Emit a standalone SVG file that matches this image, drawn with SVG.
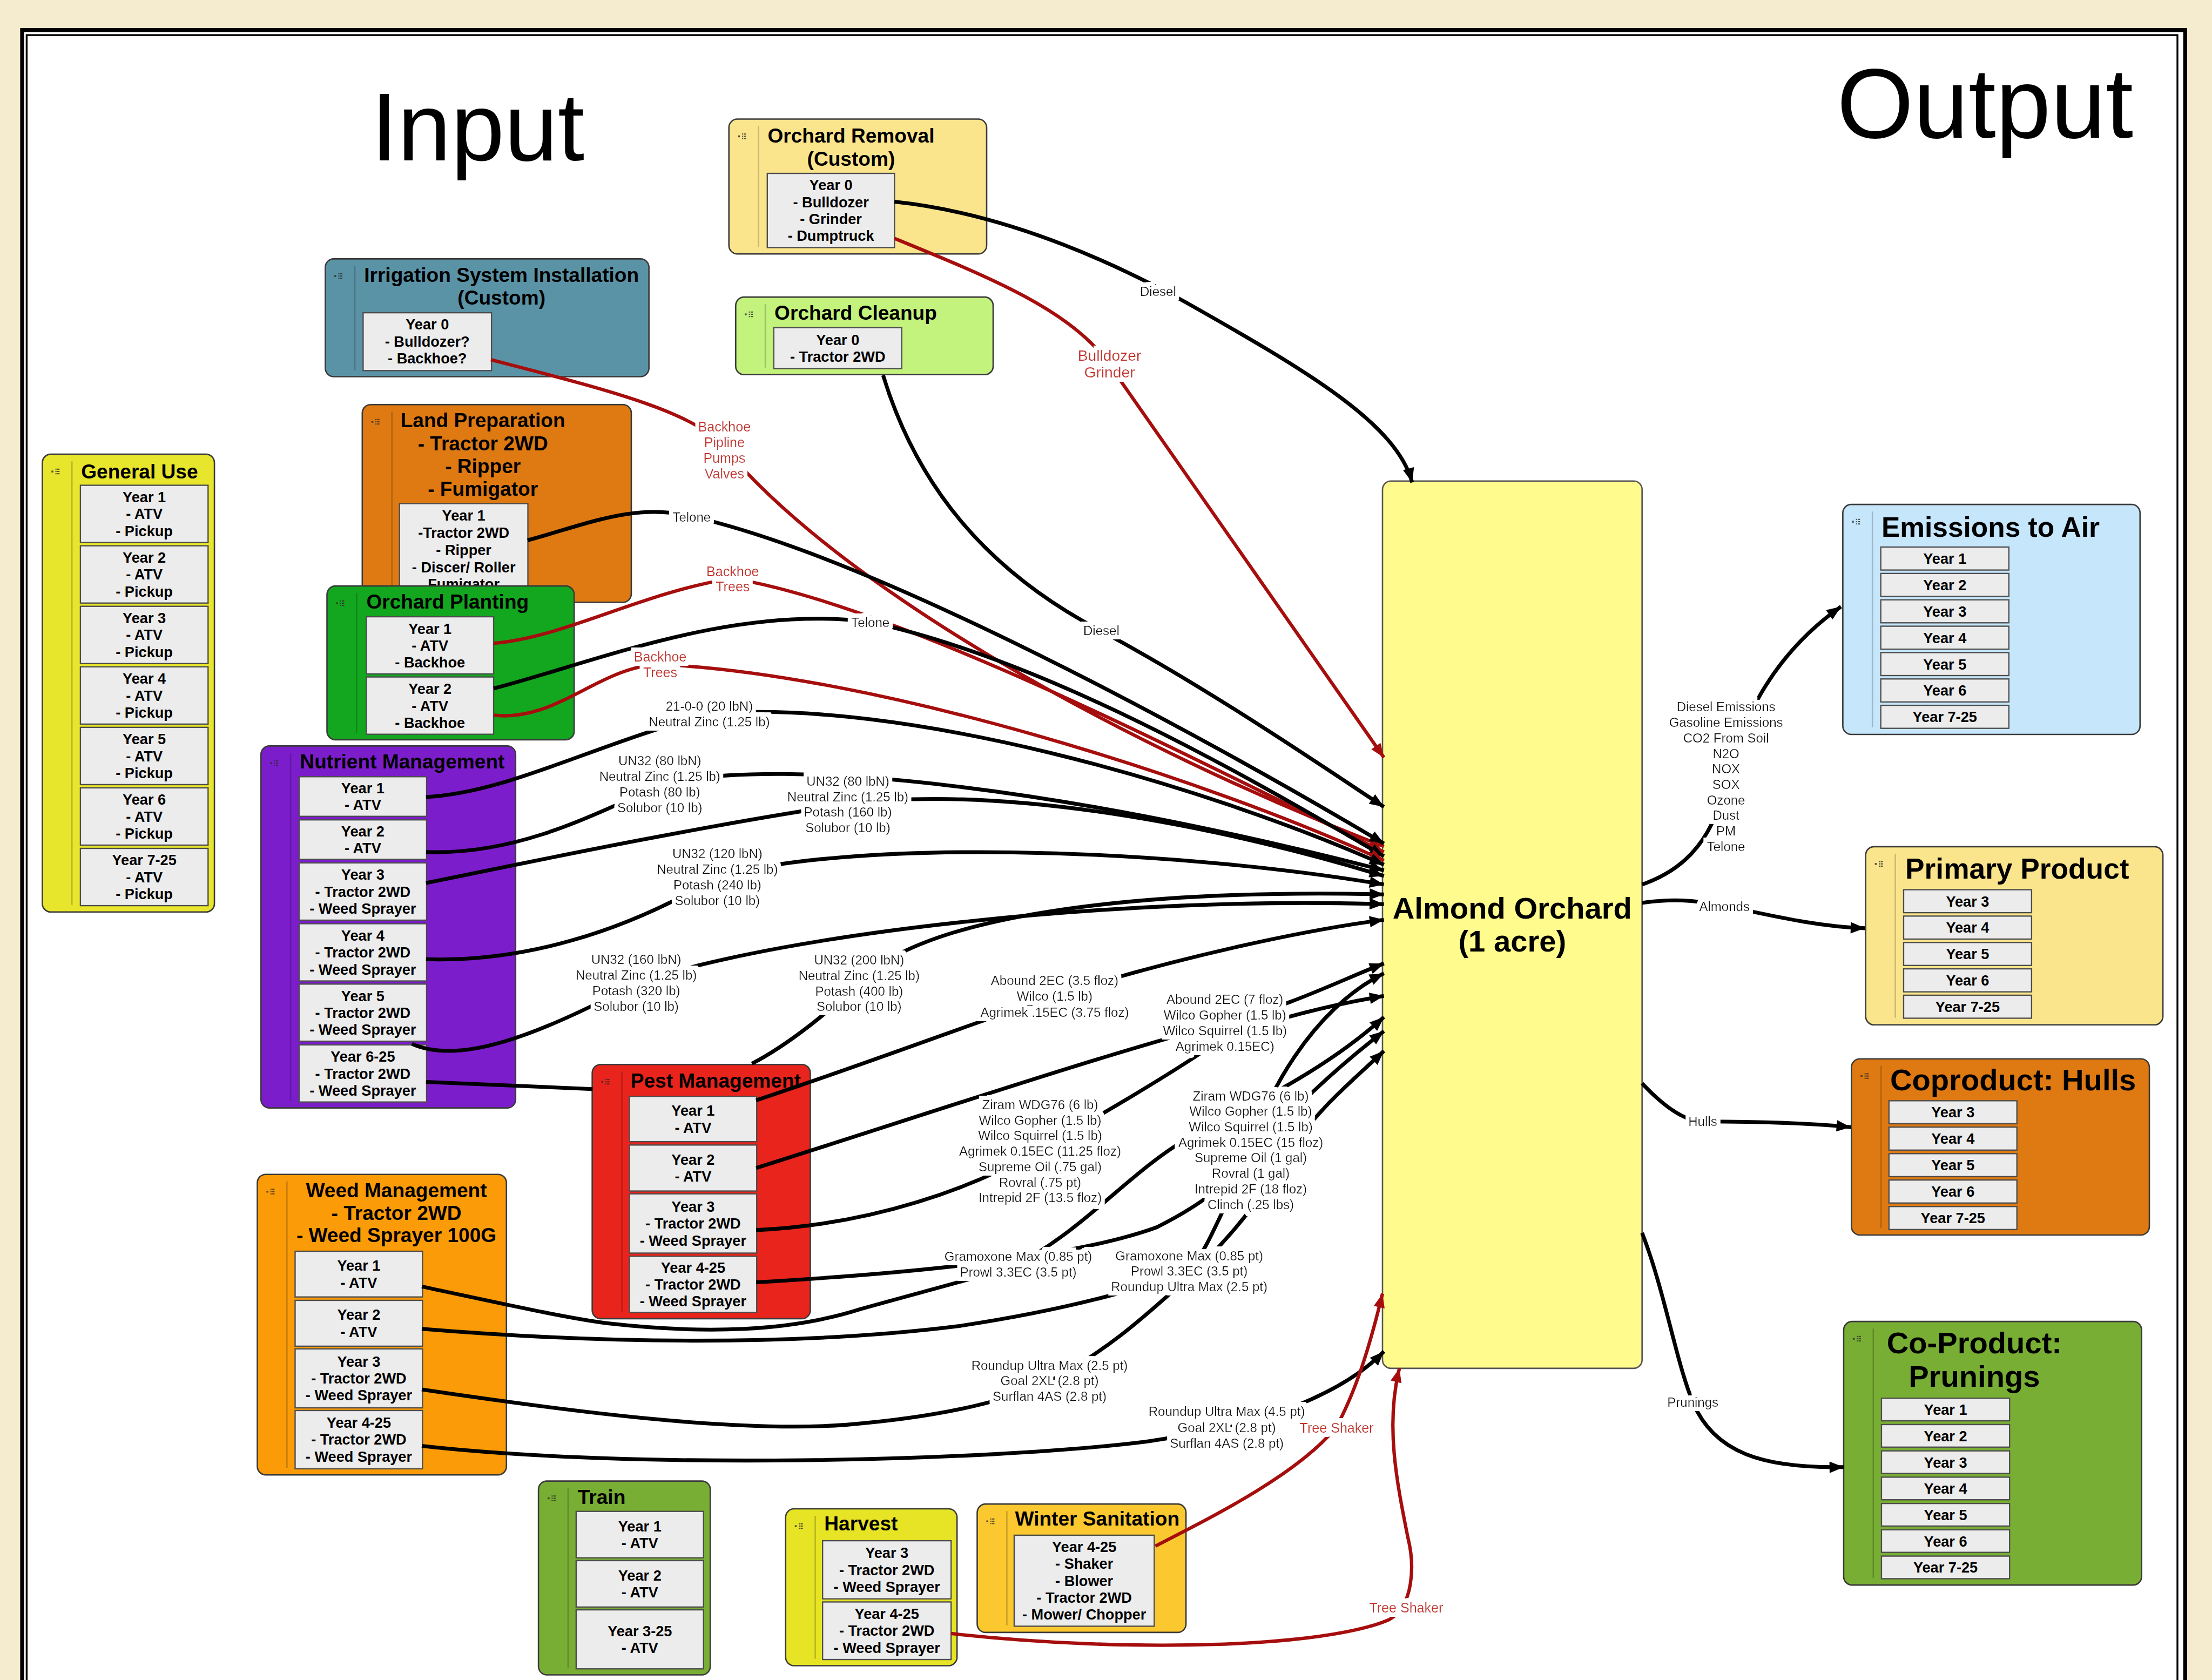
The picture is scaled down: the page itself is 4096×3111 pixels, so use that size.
<svg xmlns="http://www.w3.org/2000/svg" width="4096" height="3111" viewBox="0 0 4096 3111">
<defs>
<style>
.nf{stroke:#3a3a3a;stroke-width:1}
.dv{stroke:#000;stroke-opacity:.2;stroke-width:1}
.box{fill:#ececec;stroke:#4d4d4d;stroke-width:.9}
.tt{font-family:"Liberation Sans",Arial,sans-serif;font-weight:bold;font-size:14.2px;fill:#000}
.tm{text-anchor:middle}
.bt{font-family:"Liberation Sans",Arial,sans-serif;font-weight:bold;font-size:10.4px;fill:#000;text-anchor:middle}
.big{font-family:"Liberation Sans",Arial,sans-serif;font-size:68px;fill:#000}
.c{fill:none;stroke:#000;stroke-width:2.7;marker-end:url(#ah)}
.r{fill:none;stroke:#a60e0e;stroke-width:2.4;marker-end:url(#ahr)}
.lbl{font-family:"Liberation Sans",Arial,sans-serif;font-size:9.2px;fill:#111;text-anchor:middle;filter:url(#halo)}
.rl{fill:#c4302b;font-size:9.6px}
</style>
<filter id="halo" x="-15%" y="-25%" width="130%" height="150%">
<feMorphology in="SourceAlpha" operator="dilate" radius="2.8 3.2" result="grow"/>
<feFlood flood-color="#fff" result="white"/>
<feComposite in="white" in2="grow" operator="in" result="pad"/>
<feMerge><feMergeNode in="pad"/><feMergeNode in="SourceGraphic"/></feMerge>
</filter>
<marker id="ah" viewBox="0 0 10 8" refX="10" refY="4" markerWidth="4" markerHeight="3" orient="auto"><path d="M0,0 L10,4 L0,8 z" fill="#000"/></marker>
<marker id="ahr" viewBox="0 0 10 8" refX="10" refY="4" markerWidth="4.4" markerHeight="3.3" orient="auto"><path d="M0,0 L10,4 L0,8 z" fill="#a60e0e"/></marker>
<g id="ico" fill="#2a2a2a" fill-opacity=".8"><rect x="0" y="1.6" width="1.3" height="1.3"/><rect x="2.8" y="0.2" width="0.8" height="0.8"/><rect x="2.8" y="1.8" width="0.8" height="0.8"/><rect x="2.8" y="3.4" width="0.8" height="0.8"/><rect x="4.1" y="0.2" width="1.6" height="0.8"/><rect x="4.1" y="1.8" width="1.6" height="0.8"/><rect x="4.1" y="3.4" width="1.6" height="0.8"/></g>
</defs>
<g transform="scale(2.612245)">
<!-- page and frame -->
<rect x="0" y="0" width="1568" height="1192" fill="#f5ebce"/>
<rect x="15.7" y="21.3" width="1533.3" height="1200" fill="#fff" stroke="#000" stroke-width="2.8"/>
<rect x="18.9" y="24.9" width="1524.6" height="1200" fill="none" stroke="#000" stroke-width="1.3"/>
<text class="big" x="263" y="113.6">Input</text>
<text class="big" x="1302" y="97.8" style="font-size:70px">Output</text>

<!-- input nodes -->
<g id="node-general-use">
<rect class="nf" x="30" y="322" width="122" height="324.5" rx="6" fill="#e8e62c"/>
<line class="dv" x1="51" y1="327" x2="51" y2="641.5"/>
<use href="#ico" x="36.5" y="332"/>
<text class="tt" x="57.5" y="339">General Use</text>
<rect class="box" x="57" y="344" width="90.5" height="40.6"/>
<text class="bt" x="102.25" y="356">Year 1<tspan x="102.25" dy="12">- ATV</tspan><tspan x="102.25" dy="12">- Pickup</tspan></text>
<rect class="box" x="57" y="386.9" width="90.5" height="40.6"/>
<text class="bt" x="102.25" y="398.9">Year 2<tspan x="102.25" dy="12">- ATV</tspan><tspan x="102.25" dy="12">- Pickup</tspan></text>
<rect class="box" x="57" y="429.8" width="90.5" height="40.6"/>
<text class="bt" x="102.25" y="441.8">Year 3<tspan x="102.25" dy="12">- ATV</tspan><tspan x="102.25" dy="12">- Pickup</tspan></text>
<rect class="box" x="57" y="472.7" width="90.5" height="40.6"/>
<text class="bt" x="102.25" y="484.7">Year 4<tspan x="102.25" dy="12">- ATV</tspan><tspan x="102.25" dy="12">- Pickup</tspan></text>
<rect class="box" x="57" y="515.6" width="90.5" height="40.6"/>
<text class="bt" x="102.25" y="527.6">Year 5<tspan x="102.25" dy="12">- ATV</tspan><tspan x="102.25" dy="12">- Pickup</tspan></text>
<rect class="box" x="57" y="558.5" width="90.5" height="40.6"/>
<text class="bt" x="102.25" y="570.5">Year 6<tspan x="102.25" dy="12">- ATV</tspan><tspan x="102.25" dy="12">- Pickup</tspan></text>
<rect class="box" x="57" y="601.4" width="90.5" height="40.6"/>
<text class="bt" x="102.25" y="613.4">Year 7-25<tspan x="102.25" dy="12">- ATV</tspan><tspan x="102.25" dy="12">- Pickup</tspan></text>
</g>

<g id="node-irrigation">
<rect class="nf" x="230.6" y="183.5" width="229.4" height="83.5" rx="6" fill="#5b93a6"/>
<line class="dv" x1="251.5" y1="188.5" x2="251.5" y2="262.5"/>
<use href="#ico" x="237" y="193.5"/>
<text class="tt tm" x="355.5" y="200">Irrigation System Installation<tspan x="355.5" dy="16">(Custom)</tspan></text>
<rect class="box" x="257.4" y="221.7" width="91" height="41"/>
<text class="bt" x="302.9" y="233.7">Year 0<tspan x="302.9" dy="12">- Bulldozer?</tspan><tspan x="302.9" dy="12">- Backhoe?</tspan></text>
</g>

<g id="node-land-preparation">
<rect class="nf" x="256.8" y="286.8" width="190.7" height="140.2" rx="6" fill="#df7a13"/>
<line class="dv" x1="277.8" y1="291.8" x2="277.8" y2="422"/>
<use href="#ico" x="263.3" y="296.8"/>
<text class="tt tm" x="342.3" y="302.9">Land Preparation<tspan x="342.3" dy="16.2">- Tractor 2WD</tspan><tspan x="342.3" dy="16.2">- Ripper</tspan><tspan x="342.3" dy="16.2">- Fumigator</tspan></text>
<rect class="box" x="283.2" y="357" width="91" height="66"/>
<text class="bt" x="328.7" y="369">Year 1<tspan x="328.7" dy="12.2">-Tractor 2WD</tspan><tspan x="328.7" dy="12.2">- Ripper</tspan><tspan x="328.7" dy="12.2">- Discer/ Roller</tspan><tspan x="328.7" dy="12.2">Fumigator</tspan></text>
</g>

<g id="node-orchard-planting">
<rect class="nf" x="231.8" y="415.4" width="175.2" height="109" rx="6" fill="#13a61f"/>
<line class="dv" x1="252.8" y1="420.4" x2="252.8" y2="519.4"/>
<use href="#ico" x="238.3" y="425.4"/>
<text class="tt" x="259.7" y="431.5">Orchard Planting</text>
<rect class="box" x="259.7" y="437.2" width="90.2" height="40.5"/>
<text class="bt" x="304.8" y="449.3">Year 1<tspan x="304.8" dy="12">- ATV</tspan><tspan x="304.8" dy="12">- Backhoe</tspan></text>
<rect class="box" x="259.7" y="479.9" width="90.2" height="40.6"/>
<text class="bt" x="304.8" y="492">Year 2<tspan x="304.8" dy="12">- ATV</tspan><tspan x="304.8" dy="12">- Backhoe</tspan></text>
</g>

<g id="node-nutrient-management">
<rect class="nf" x="185" y="528.8" width="180.5" height="256.6" rx="6" fill="#7c1dcc"/>
<line class="dv" x1="206" y1="533.8" x2="206" y2="780.4"/>
<use href="#ico" x="191.5" y="538.8"/>
<text class="tt" x="212.6" y="544.8">Nutrient Management</text>
<rect class="box" x="212" y="550.6" width="90.4" height="28.1"/>
<text class="bt" x="257.2" y="562.3">Year 1<tspan x="257.2" dy="12">- ATV</tspan></text>
<rect class="box" x="212" y="581.2" width="90.4" height="28"/>
<text class="bt" x="257.2" y="592.9">Year 2<tspan x="257.2" dy="12">- ATV</tspan></text>
<rect class="box" x="212" y="611.7" width="90.4" height="40.6"/>
<text class="bt" x="257.2" y="623.7">Year 3<tspan x="257.2" dy="12">- Tractor 2WD</tspan><tspan x="257.2" dy="12">- Weed Sprayer</tspan></text>
<rect class="box" x="212" y="654.8" width="90.4" height="40.6"/>
<text class="bt" x="257.2" y="666.8">Year 4<tspan x="257.2" dy="12">- Tractor 2WD</tspan><tspan x="257.2" dy="12">- Weed Sprayer</tspan></text>
<rect class="box" x="212" y="697.6" width="90.4" height="40.5"/>
<text class="bt" x="257.2" y="709.6">Year 5<tspan x="257.2" dy="12">- Tractor 2WD</tspan><tspan x="257.2" dy="12">- Weed Sprayer</tspan></text>
<rect class="box" x="212" y="740.7" width="90.4" height="40.5"/>
<text class="bt" x="257.2" y="752.7">Year 6-25<tspan x="257.2" dy="12">- Tractor 2WD</tspan><tspan x="257.2" dy="12">- Weed Sprayer</tspan></text>
</g>

<g id="node-pest-management">
<rect class="nf" x="419.8" y="754.6" width="154.6" height="180.2" rx="6" fill="#e9241c"/>
<line class="dv" x1="440.8" y1="759.6" x2="440.8" y2="929.8"/>
<use href="#ico" x="426.3" y="764.6"/>
<text class="tt" x="447" y="771">Pest Management</text>
<rect class="box" x="446.2" y="777.2" width="90.2" height="32.1"/>
<text class="bt" x="491.3" y="791">Year 1<tspan x="491.3" dy="12">- ATV</tspan></text>
<rect class="box" x="446.2" y="811.7" width="90.2" height="32.6"/>
<text class="bt" x="491.3" y="825.7">Year 2<tspan x="491.3" dy="12">- ATV</tspan></text>
<rect class="box" x="446.2" y="846.3" width="90.2" height="42"/>
<text class="bt" x="491.3" y="859">Year 3<tspan x="491.3" dy="12">- Tractor 2WD</tspan><tspan x="491.3" dy="12">- Weed Sprayer</tspan></text>
<rect class="box" x="446.2" y="890.6" width="90.2" height="39.7"/>
<text class="bt" x="491.3" y="902.2">Year 4-25<tspan x="491.3" dy="12">- Tractor 2WD</tspan><tspan x="491.3" dy="12">- Weed Sprayer</tspan></text>
</g>

<g id="node-weed-management">
<rect class="nf" x="182.4" y="832.5" width="176.6" height="213" rx="6" fill="#fb9b08"/>
<line class="dv" x1="203.4" y1="837.5" x2="203.4" y2="1040.5"/>
<use href="#ico" x="188.9" y="842.5"/>
<text class="tt tm" x="281" y="848.6">Weed Management<tspan x="281" dy="16">- Tractor 2WD</tspan><tspan x="281" dy="16">- Weed Sprayer 100G</tspan></text>
<rect class="box" x="209.2" y="887" width="90.3" height="32.4"/>
<text class="bt" x="254.35" y="900.9">Year 1<tspan x="254.35" dy="12">- ATV</tspan></text>
<rect class="box" x="209.2" y="921.8" width="90.3" height="32.5"/>
<text class="bt" x="254.35" y="935.7">Year 2<tspan x="254.35" dy="12">- ATV</tspan></text>
<rect class="box" x="209.2" y="956.2" width="90.3" height="41.8"/>
<text class="bt" x="254.35" y="968.8">Year 3<tspan x="254.35" dy="12">- Tractor 2WD</tspan><tspan x="254.35" dy="12">- Weed Sprayer</tspan></text>
<rect class="box" x="209.2" y="999.9" width="90.3" height="41.3"/>
<text class="bt" x="254.35" y="1012.2">Year 4-25<tspan x="254.35" dy="12">- Tractor 2WD</tspan><tspan x="254.35" dy="12">- Weed Sprayer</tspan></text>
</g>

<g id="node-train">
<rect class="nf" x="381.7" y="1049.9" width="121.8" height="137.4" rx="6" fill="#79ae34"/>
<line class="dv" x1="402.7" y1="1054.9" x2="402.7" y2="1182.3"/>
<use href="#ico" x="388.2" y="1059.9"/>
<text class="tt" x="409.5" y="1066">Train</text>
<rect class="box" x="408.4" y="1071.4" width="90.3" height="32.9"/>
<text class="bt" x="453.55" y="1085.5">Year 1<tspan x="453.55" dy="12">- ATV</tspan></text>
<rect class="box" x="408.4" y="1106.3" width="90.3" height="32.9"/>
<text class="bt" x="453.55" y="1120.5">Year 2<tspan x="453.55" dy="12">- ATV</tspan></text>
<rect class="box" x="408.4" y="1141.2" width="90.3" height="41.8"/>
<text class="bt" x="453.55" y="1159.8">Year 3-25<tspan x="453.55" dy="12">- ATV</tspan></text>
</g>

<g id="node-harvest">
<rect class="nf" x="556.9" y="1069.6" width="121.5" height="111.2" rx="6" fill="#e6e424"/>
<line class="dv" x1="577.9" y1="1074.6" x2="577.9" y2="1175.8"/>
<use href="#ico" x="563.4" y="1079.6"/>
<text class="tt" x="584.3" y="1085">Harvest</text>
<rect class="box" x="583.1" y="1092.2" width="91.1" height="41.2"/>
<text class="bt" x="628.65" y="1104.5">Year 3<tspan x="628.65" dy="12">- Tractor 2WD</tspan><tspan x="628.65" dy="12">- Weed Sprayer</tspan></text>
<rect class="box" x="583.1" y="1135.6" width="91.1" height="40.8"/>
<text class="bt" x="628.65" y="1147.7">Year 4-25<tspan x="628.65" dy="12">- Tractor 2WD</tspan><tspan x="628.65" dy="12">- Weed Sprayer</tspan></text>
</g>

<g id="node-winter-sanitation">
<rect class="nf" x="692.7" y="1066.2" width="148" height="91" rx="6" fill="#fbc82f"/>
<line class="dv" x1="713.7" y1="1071.2" x2="713.7" y2="1152.2"/>
<use href="#ico" x="699.2" y="1076.2"/>
<text class="tt" x="719.5" y="1081.4">Winter Sanitation</text>
<rect class="box" x="718.9" y="1088.3" width="99.3" height="64.5"/>
<text class="bt" x="768.55" y="1100.2">Year 4-25<tspan x="768.55" dy="12">- Shaker</tspan><tspan x="768.55" dy="12">- Blower</tspan><tspan x="768.55" dy="12">- Tractor 2WD</tspan><tspan x="768.55" dy="12">- Mower/ Chopper</tspan></text>
</g>

<g id="node-orchard-removal">
<rect class="nf" x="516.7" y="84.4" width="182.7" height="95.6" rx="6" fill="#fbe58c"/>
<line class="dv" x1="537.7" y1="89.4" x2="537.7" y2="175"/>
<use href="#ico" x="523.2" y="94.4"/>
<text class="tt tm" x="603.3" y="101">Orchard Removal<tspan x="603.3" dy="16.6">(Custom)</tspan></text>
<rect class="box" x="543.9" y="122.9" width="90.2" height="52.6"/>
<text class="bt" x="589" y="134.9">Year 0<tspan x="589" dy="12">- Bulldozer</tspan><tspan x="589" dy="12">- Grinder</tspan><tspan x="589" dy="12">- Dumptruck</tspan></text>
</g>

<g id="node-orchard-cleanup">
<rect class="nf" x="521.5" y="210.6" width="182.5" height="55" rx="6" fill="#c3f27d"/>
<line class="dv" x1="542.5" y1="215.6" x2="542.5" y2="260.6"/>
<use href="#ico" x="528" y="220.6"/>
<text class="tt" x="549" y="226.5">Orchard Cleanup</text>
<rect class="box" x="548.5" y="232.3" width="90.7" height="29"/>
<text class="bt" x="593.85" y="244.5">Year 0<tspan x="593.85" dy="12">- Tractor 2WD</tspan></text>
</g>

<!-- central system -->
<g id="node-almond-orchard">
<rect x="980" y="341" width="184" height="629" rx="6" fill="#fffb8c" stroke="#555" stroke-width="1"/>
<text class="tt tm" x="1072" y="651" style="font-size:21.5px">Almond Orchard<tspan x="1072" dy="23.5">(1 acre)</tspan></text>
</g>

<!-- output nodes -->
<g id="node-emissions">
<rect class="nf" x="1306.3" y="357.6" width="210.7" height="163" rx="6" fill="#c6e6fb"/>
<line class="dv" x1="1327.3" y1="362.6" x2="1327.3" y2="515.6"/>
<use href="#ico" x="1312.8" y="367.6"/>
<text class="tt" x="1333.7" y="380.4" style="font-size:19.7px">Emissions to Air</text>
<rect class="box" x="1333.2" y="387.8" width="90.8" height="16.3"/><text class="bt" x="1378.6" y="399.7">Year 1</text>
<rect class="box" x="1333.2" y="406.5" width="90.8" height="16.3"/><text class="bt" x="1378.6" y="418.4">Year 2</text>
<rect class="box" x="1333.2" y="425.2" width="90.8" height="16.3"/><text class="bt" x="1378.6" y="437.1">Year 3</text>
<rect class="box" x="1333.2" y="443.9" width="90.8" height="16.3"/><text class="bt" x="1378.6" y="455.8">Year 4</text>
<rect class="box" x="1333.2" y="462.6" width="90.8" height="16.3"/><text class="bt" x="1378.6" y="474.5">Year 5</text>
<rect class="box" x="1333.2" y="481.3" width="90.8" height="16.3"/><text class="bt" x="1378.6" y="493.2">Year 6</text>
<rect class="box" x="1333.2" y="500" width="90.8" height="16.3"/><text class="bt" x="1378.6" y="511.9">Year 7-25</text>
</g>

<g id="node-primary-product">
<rect class="nf" x="1322.5" y="600.2" width="210.7" height="126.3" rx="6" fill="#fbe58c"/>
<line class="dv" x1="1343.5" y1="605.2" x2="1343.5" y2="721.5"/>
<use href="#ico" x="1329" y="610.2"/>
<text class="tt" x="1350.6" y="623" style="font-size:20.4px">Primary Product</text>
<rect class="box" x="1349.4" y="630.7" width="90.7" height="16.3"/><text class="bt" x="1394.75" y="642.6">Year 3</text>
<rect class="box" x="1349.4" y="649.4" width="90.7" height="16.3"/><text class="bt" x="1394.75" y="661.3">Year 4</text>
<rect class="box" x="1349.4" y="668.1" width="90.7" height="16.3"/><text class="bt" x="1394.75" y="680">Year 5</text>
<rect class="box" x="1349.4" y="686.8" width="90.7" height="16.3"/><text class="bt" x="1394.75" y="698.7">Year 6</text>
<rect class="box" x="1349.4" y="705.5" width="90.7" height="16.3"/><text class="bt" x="1394.75" y="717.4">Year 7-25</text>
</g>

<g id="node-coproduct-hulls">
<rect class="nf" x="1312.4" y="750.6" width="211.2" height="124.9" rx="6" fill="#df7a13"/>
<line class="dv" x1="1333.4" y1="755.6" x2="1333.4" y2="870.5"/>
<use href="#ico" x="1318.9" y="760.6"/>
<text class="tt" x="1339.8" y="772.9" style="font-size:21.5px">Coproduct: Hulls</text>
<rect class="box" x="1339" y="780.3" width="90.7" height="16.3"/><text class="bt" x="1384.35" y="792.2">Year 3</text>
<rect class="box" x="1339" y="799" width="90.7" height="16.3"/><text class="bt" x="1384.35" y="810.9">Year 4</text>
<rect class="box" x="1339" y="817.8" width="90.7" height="16.3"/><text class="bt" x="1384.35" y="829.7">Year 5</text>
<rect class="box" x="1339" y="836.5" width="90.7" height="16.3"/><text class="bt" x="1384.35" y="848.4">Year 6</text>
<rect class="box" x="1339" y="855.3" width="90.7" height="16.3"/><text class="bt" x="1384.35" y="867.2">Year 7-25</text>
</g>

<g id="node-coproduct-prunings">
<rect class="nf" x="1306.9" y="936.8" width="211.2" height="186.8" rx="6" fill="#79ae34"/>
<line class="dv" x1="1327.9" y1="941.8" x2="1327.9" y2="1118.6"/>
<use href="#ico" x="1313.4" y="946.8"/>
<text class="tt tm" x="1399.5" y="959.4" style="font-size:21.5px">Co-Product:<tspan x="1399.5" dy="23.8">Prunings</tspan></text>
<rect class="box" x="1333.7" y="991.2" width="90.8" height="16"/><text class="bt" x="1379.1" y="1003">Year 1</text>
<rect class="box" x="1333.7" y="1009.85" width="90.8" height="16"/><text class="bt" x="1379.1" y="1021.65">Year 2</text>
<rect class="box" x="1333.7" y="1028.5" width="90.8" height="16"/><text class="bt" x="1379.1" y="1040.3">Year 3</text>
<rect class="box" x="1333.7" y="1047.15" width="90.8" height="16"/><text class="bt" x="1379.1" y="1058.95">Year 4</text>
<rect class="box" x="1333.7" y="1065.8" width="90.8" height="16"/><text class="bt" x="1379.1" y="1077.6">Year 5</text>
<rect class="box" x="1333.7" y="1084.45" width="90.8" height="16"/><text class="bt" x="1379.1" y="1096.25">Year 6</text>
<rect class="box" x="1333.7" y="1103.1" width="90.8" height="16"/><text class="bt" x="1379.1" y="1114.9">Year 7-25</text>
</g>

<!-- connectors and their labels -->
<g id="connectors">
<path class="c" d="M634,143 C720,152 800,192 840,214 C925,262 990,300 1001,342"/>
<path class="r" d="M634,169 C700,196 760,220 786,258 L981,537"/>
<path class="c" d="M626,266 C650,345 700,405 780,447 C860,490 940,545 981,572"/>
<path class="r" d="M348,255 C425,275 495,292 514,318 C600,420 800,530 981,600"/>
<path class="c" d="M374,383 C415,372 450,356 490,366 C620,395 850,520 981,598"/>
<path class="r" d="M350,456 C400,452 455,420 519,410 C640,430 850,540 981,604"/>
<path class="c" d="M350,488 C420,470 520,428 617,441 C750,470 900,560 981,607"/>
<path class="r" d="M350,507 C395,512 425,472 468,471 C620,478 850,550 981,610"/>
<path class="c" d="M302,565 C360,562 420,528 503,506 C640,495 850,555 981,613"/>
<path class="c" d="M302,604 C360,606 410,584 468,556 C560,535 760,560 981,617"/>
<path class="c" d="M302,626 C380,610 500,585 601,570 C720,555 880,590 981,621"/>
<path class="c" d="M302,680 C370,682 440,662 508,622 C600,595 820,600 981,627"/>
<path class="c" d="M292,740 C325,755 380,735 451,697 C560,660 800,635 981,641"/>
<path class="c" d="M302,767 C350,769 390,771 420,772 M533,754 C560,740 590,715 609,697 C650,650 800,630 981,634"/>
<path class="c" d="M536,780 C620,752 690,725 748,706 C830,680 920,660 981,652"/>
<path class="c" d="M536,828 C650,792 780,748 868,725 C915,713 950,695 981,683"/>
<path class="c" d="M536,872 C620,868 690,842 737,815 C790,785 840,755 868,735 C905,722 945,712 981,706"/>
<path class="c" d="M536,909 C640,903 760,892 820,870 C860,850 880,830 887,815 C895,780 930,715 981,690"/>
<path class="c" d="M299,912 C360,925 400,934 430,938 C500,946 560,944 610,928 C660,914 700,904 722,896 C770,870 800,832 840,808 C890,782 940,758 981,721"/>
<path class="c" d="M299,942 C420,952 560,955 680,940 C760,928 810,913 843,901 C860,880 868,850 885,825 C910,790 950,755 981,731"/>
<path class="c" d="M299,985 C400,1000 520,1016 600,1010 C660,1005 710,995 744,979 C790,955 820,925 843,905 C880,870 900,840 915,815 C935,785 960,765 981,745"/>
<path class="c" d="M299,1025 C450,1042 700,1036 812,1022 C840,1018 855,1014 870,1012 C910,1002 955,985 981,958"/>
<path class="r" d="M819,1096 C860,1075 920,1045 947,1012 C962,985 972,950 980,917"/>
<path class="r" d="M674,1158 C800,1172 940,1168 985,1148 C1002,1138 1003,1110 998,1090 C990,1050 982,1010 992,970"/>
<path class="c" d="M1164,627 C1190,618 1212,600 1222,560 C1232,515 1255,465 1305,430"/>
<path class="c" d="M1164,640 C1185,637 1200,638 1222,642 C1260,650 1290,657 1322,658"/>
<path class="c" d="M1164,768 C1180,785 1195,795 1207,795 C1240,795 1280,796 1312,799"/>
<path class="c" d="M1164,874 C1180,915 1188,965 1200,994 C1215,1030 1250,1041 1307,1040"/>

<text class="lbl" x="820.9" y="209.9">Diesel</text>
<text class="lbl rl" x="786.5" y="255.8" style="font-size:10.8px">Bulldozer<tspan x="786.5" dy="11.9">Grinder</tspan></text>
<text class="lbl" x="780.7" y="450.3">Diesel</text>
<text class="lbl rl" x="513.5" y="305.7">Backhoe<tspan x="513.5" dy="11.2">Pipline</tspan><tspan x="513.5" dy="11.2">Pumps</tspan><tspan x="513.5" dy="11.2">Valves</tspan></text>
<text class="lbl" x="490.3" y="369.8">Telone</text>
<text class="lbl rl" x="519.4" y="408.3">Backhoe<tspan x="519.4" dy="10.8">Trees</tspan></text>
<text class="lbl" x="617" y="444.3">Telone</text>
<text class="lbl rl" x="468" y="469">Backhoe<tspan x="468" dy="10.9">Trees</tspan></text>
<text class="lbl" x="502.8" y="503.6">21-0-0 (20 lbN)<tspan x="502.8" dy="11.1">Neutral Zinc (1.25 lb)</tspan></text>
<text class="lbl" x="467.7" y="542.6">UN32 (80 lbN)<tspan x="467.7" dy="11.1">Neutral Zinc (1.25 lb)</tspan><tspan x="467.7" dy="11.1">Potash (80 lb)</tspan><tspan x="467.7" dy="11.1">Solubor (10 lb)</tspan></text>
<text class="lbl" x="601" y="557">UN32 (80 lbN)<tspan x="601" dy="11">Neutral Zinc (1.25 lb)</tspan><tspan x="601" dy="11">Potash (160 lb)</tspan><tspan x="601" dy="11">Solubor (10 lb)</tspan></text>
<text class="lbl" x="508.5" y="608.3">UN32 (120 lbN)<tspan x="508.5" dy="11.1">Neutral Zinc (1.25 lb)</tspan><tspan x="508.5" dy="11.1">Potash (240 lb)</tspan><tspan x="508.5" dy="11.1">Solubor (10 lb)</tspan></text>
<text class="lbl" x="451" y="683.5">UN32 (160 lbN)<tspan x="451" dy="11">Neutral Zinc (1.25 lb)</tspan><tspan x="451" dy="11">Potash (320 lb)</tspan><tspan x="451" dy="11">Solubor (10 lb)</tspan></text>
<text class="lbl" x="609" y="683.8">UN32 (200 lbN)<tspan x="609" dy="11">Neutral Zinc (1.25 lb)</tspan><tspan x="609" dy="11">Potash (400 lb)</tspan><tspan x="609" dy="11">Solubor (10 lb)</tspan></text>
<text class="lbl" x="747.6" y="698.3">Abound 2EC (3.5 floz)<tspan x="747.6" dy="11.2">Wilco (1.5 lb)</tspan><tspan x="747.6" dy="11.2">Agrimek .15EC (3.75 floz)</tspan></text>
<text class="lbl" x="868.3" y="711.7">Abound 2EC (7 floz)<tspan x="868.3" dy="11.1">Wilco Gopher (1.5 lb)</tspan><tspan x="868.3" dy="11.1">Wilco Squirrel (1.5 lb)</tspan><tspan x="868.3" dy="11.1">Agrimek 0.15EC)</tspan></text>
<text class="lbl" x="737.3" y="786.3">Ziram WDG76 (6 lb)<tspan x="737.3" dy="11">Wilco Gopher (1.5 lb)</tspan><tspan x="737.3" dy="11">Wilco Squirrel (1.5 lb)</tspan><tspan x="737.3" dy="11">Agrimek 0.15EC (11.25 floz)</tspan><tspan x="737.3" dy="11">Supreme Oil (.75 gal)</tspan><tspan x="737.3" dy="11">Rovral (.75 pt)</tspan><tspan x="737.3" dy="11">Intrepid 2F (13.5 floz)</tspan></text>
<text class="lbl" x="886.6" y="780">Ziram WDG76 (6 lb)<tspan x="886.6" dy="11">Wilco Gopher (1.5 lb)</tspan><tspan x="886.6" dy="11">Wilco Squirrel (1.5 lb)</tspan><tspan x="886.6" dy="11">Agrimek 0.15EC (15 floz)</tspan><tspan x="886.6" dy="11">Supreme Oil (1 gal)</tspan><tspan x="886.6" dy="11">Rovral (1 gal)</tspan><tspan x="886.6" dy="11">Intrepid 2F (18 floz)</tspan><tspan x="886.6" dy="11">Clinch (.25 lbs)</tspan></text>
<text class="lbl" x="721.8" y="893.8">Gramoxone Max (0.85 pt)<tspan x="721.8" dy="11.2">Prowl 3.3EC (3.5 pt)</tspan></text>
<text class="lbl" x="843" y="893.3">Gramoxone Max (0.85 pt)<tspan x="843" dy="11">Prowl 3.3EC (3.5 pt)</tspan><tspan x="843" dy="11">Roundup Ultra Max (2.5 pt)</tspan></text>
<text class="lbl" x="744" y="971.1">Roundup Ultra Max (2.5 pt)<tspan x="744" dy="11">Goal 2XL (2.8 pt)</tspan><tspan x="744" dy="11">Surflan 4AS (2.8 pt)</tspan></text>
<text class="lbl" x="869.6" y="1003.9">Roundup Ultra Max (4.5 pt)<tspan x="869.6" dy="11.2">Goal 2XL (2.8 pt)</tspan><tspan x="869.6" dy="11.2">Surflan 4AS (2.8 pt)</tspan></text>
<text class="lbl rl" x="947.5" y="1015.7">Tree Shaker</text>
<text class="lbl rl" x="996.8" y="1142.9">Tree Shaker</text>
<text class="lbl" x="1223.5" y="504.3">Diesel Emissions<tspan x="1223.5" dy="11">Gasoline Emissions</tspan><tspan x="1223.5" dy="11">CO2 From Soil</tspan><tspan x="1223.5" dy="11">N2O</tspan><tspan x="1223.5" dy="11">NOX</tspan><tspan x="1223.5" dy="11">SOX</tspan><tspan x="1223.5" dy="11">Ozone</tspan><tspan x="1223.5" dy="11">Dust</tspan><tspan x="1223.5" dy="11">PM</tspan><tspan x="1223.5" dy="11">Telone</tspan></text>
<text class="lbl" x="1222.4" y="645.7">Almonds</text>
<text class="lbl" x="1207" y="798.3">Hulls</text>
<text class="lbl" x="1200" y="997.3">Prunings</text>
</g>
</g>
</svg>
